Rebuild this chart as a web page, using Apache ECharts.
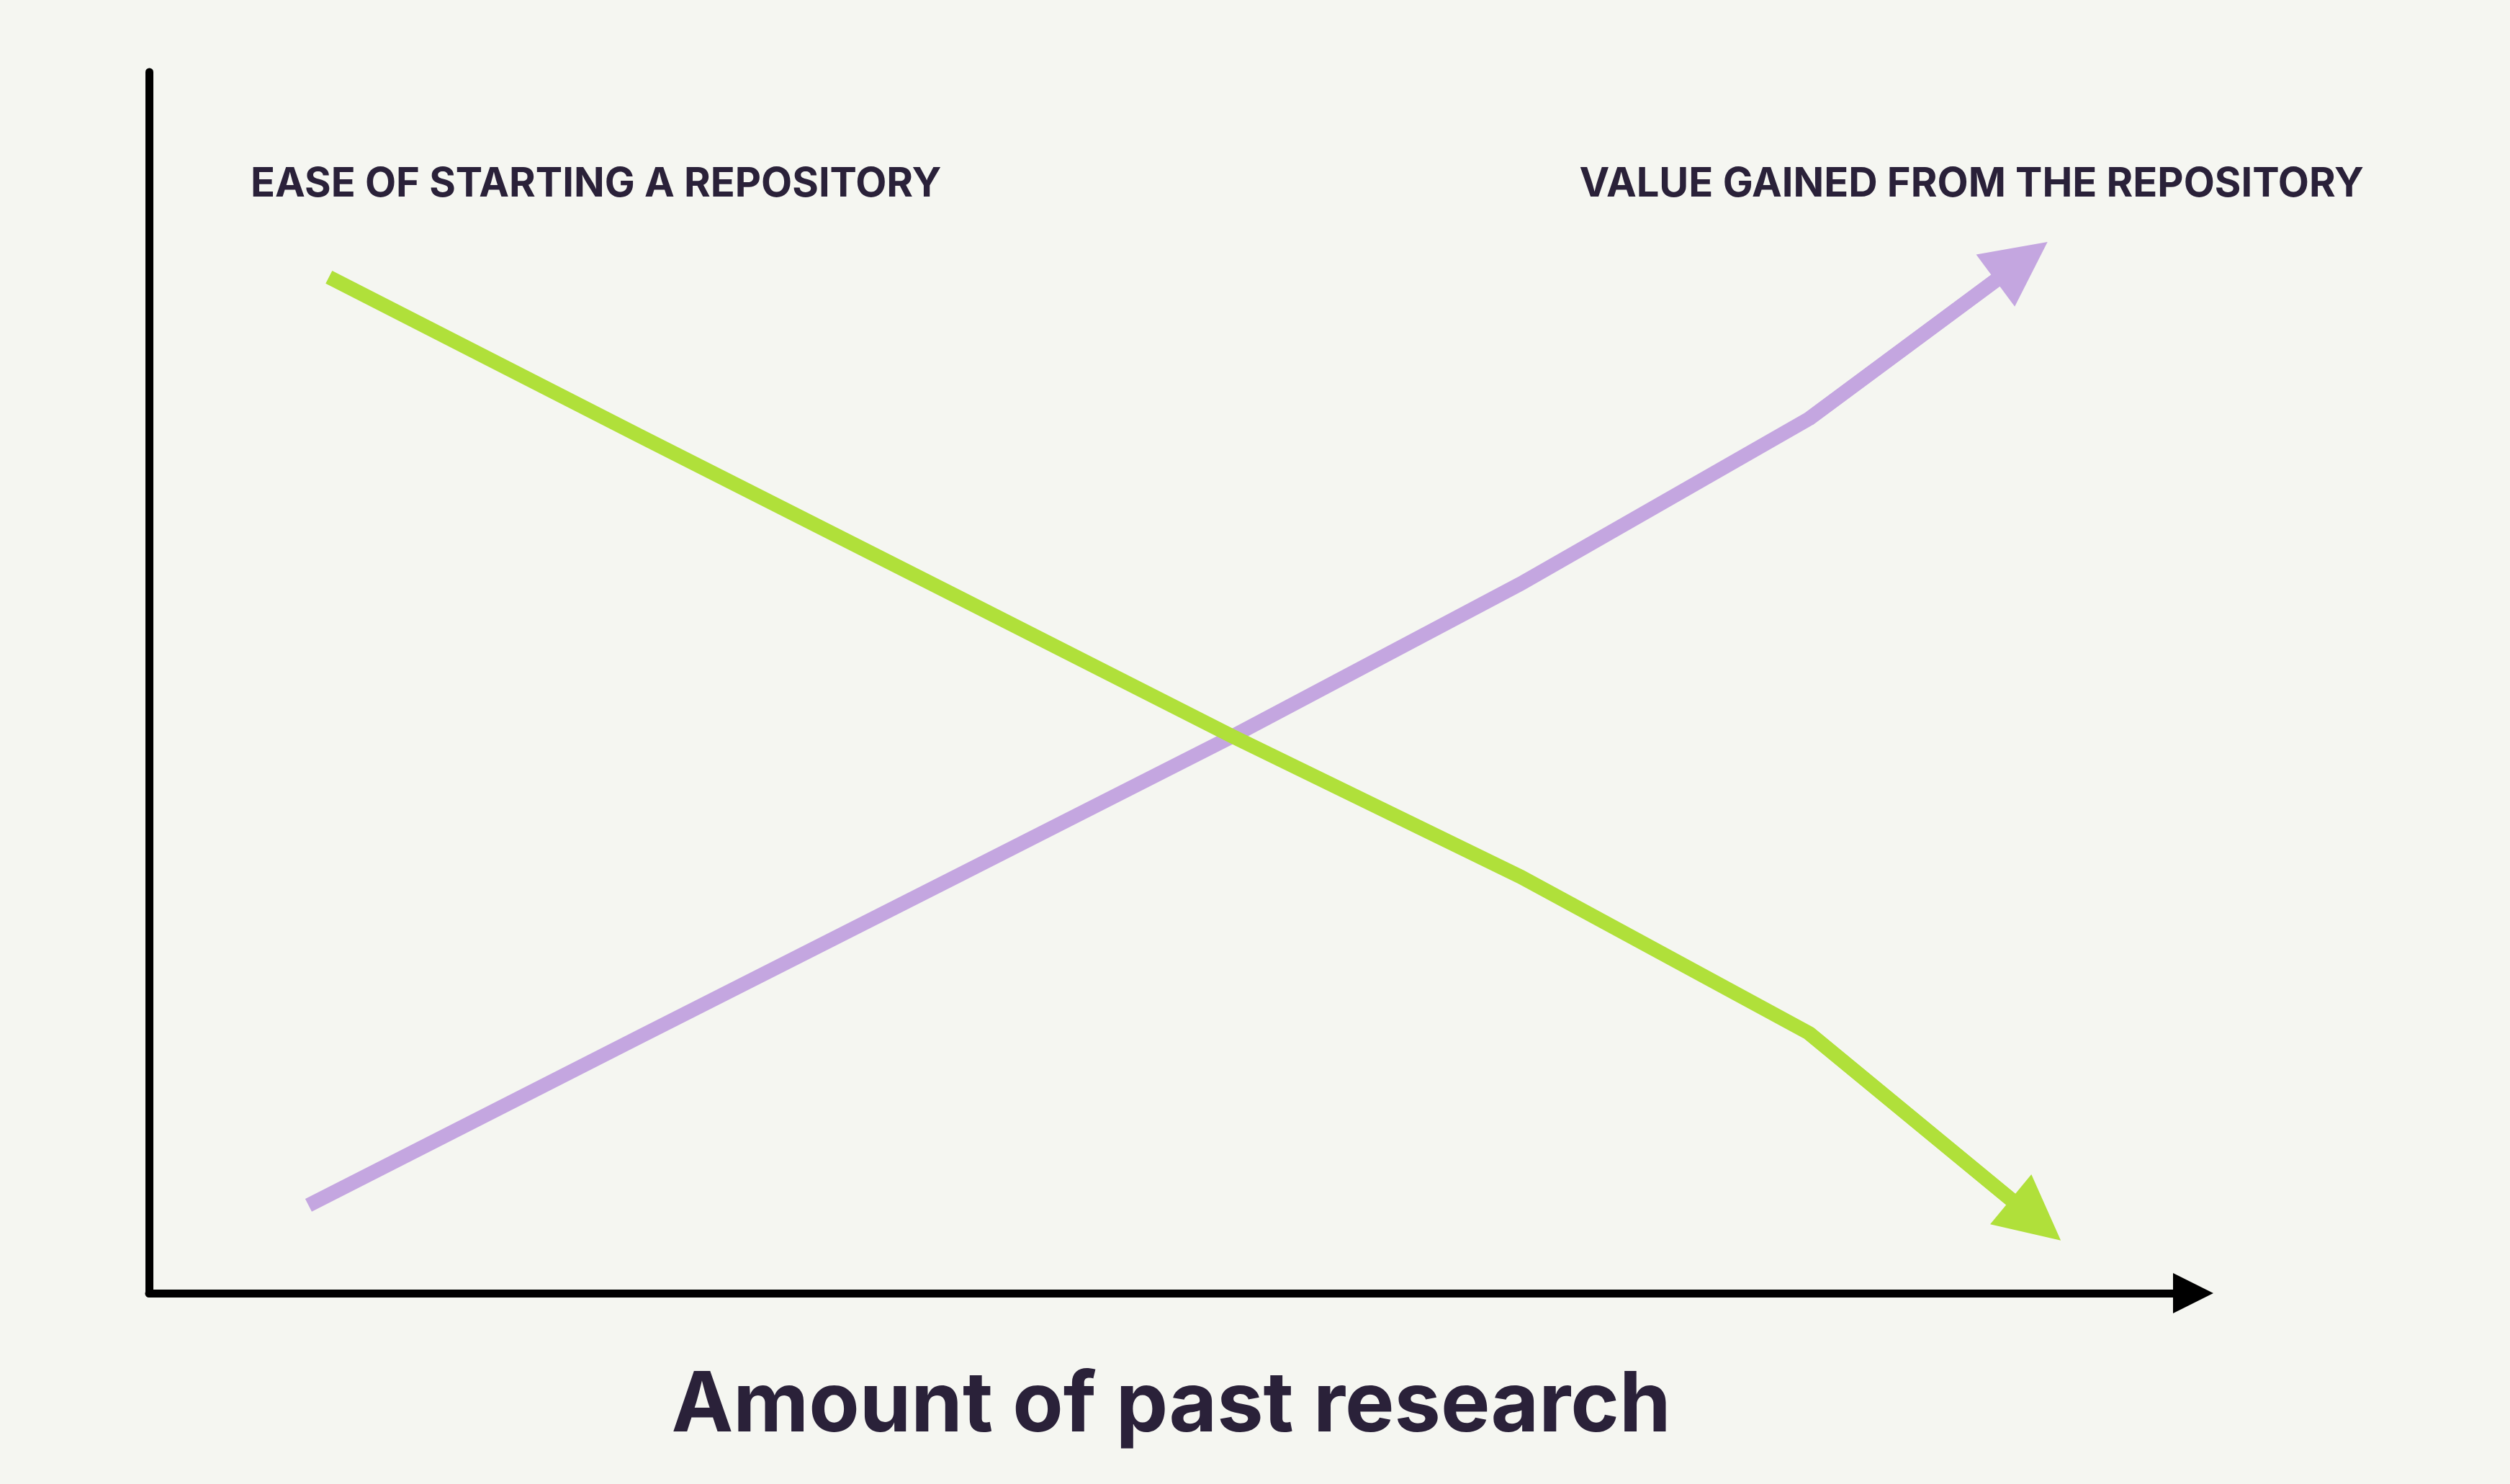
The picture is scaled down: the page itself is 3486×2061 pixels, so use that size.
<!DOCTYPE html>
<html><head><meta charset="utf-8">
<script src="https://cdn.jsdelivr.net/npm/echarts@6/dist/echarts.min.js"></script>
<style>html,body{margin:0;padding:0;background:#f5f6f1}#c{width:3486px;height:2061px}</style>
</head><body><div id="c"></div>
<script>
const easeX = [8.8, 24.0, 39.7, 53.0, 67.1, 81.2, 92.3];
const easeY = [83.2, 70.2, 56.9, 45.6, 34.1, 21.3, 6.0];
const valueX = [7.8, 24.0, 39.7, 53.0, 67.1, 81.2, 91.6];
const valueY = [7.2, 21.0, 34.3, 45.6, 58.1, 71.6, 84.5];
const labels = ["EASE OF STARTING A REPOSITORY", "VALUE GAINED FROM THE REPOSITORY"];
const xName = "Amount of past research";
const pts = (xs, ys) => xs.map((x, i) => [x, ys[i]]);
const tail = (xs, ys) => { const n = xs.length; return [[xs[n-2], ys[n-2]], [xs[n-1], ys[n-1]]]; };
const chart = echarts.init(document.getElementById('c'));
const lineSeries = (xs, ys, color) => [
  {type: 'lines', coordinateSystem: 'cartesian2d', polyline: true, symbol: 'none',
    lineStyle: {color: color, width: 20, opacity: 1, cap: 'butt'}, data: [{coords: pts(xs, ys)}]},
  {type: 'lines', coordinateSystem: 'cartesian2d', symbol: ['none', 'triangle'], symbolSize: [70, 90],
    lineStyle: {color: color, width: 20, opacity: 1}, itemStyle: {color: color}, data: [{coords: tail(xs, ys)}]}
];
chart.setOption({
  backgroundColor: '#f5f6f1',
  animation: false,
  grid: {left: 207, top: 100, right: 440, bottom: 265},
  xAxis: {type: 'value', min: 0, max: 100, splitLine: {show: false}, axisTick: {show: false}, axisLabel: {show: false},
    axisLine: {lineStyle: {color: '#000', width: 11}, symbol: ['none', 'triangle'], symbolSize: [56, 56]},
    name: xName, nameLocation: 'middle', nameGap: 100,
    nameTextStyle: {fontFamily: 'Inter', fontWeight: 'bold', fontSize: 115, color: '#2a2139'}},
  yAxis: {type: 'value', min: 0, max: 100, splitLine: {show: false}, axisTick: {show: false}, axisLabel: {show: false},
    axisLine: {onZero: false, lineStyle: {color: '#000', width: 11}}},
  graphic: [
    {type: 'text', left: 348, top: 228, style: {text: labels[0], font: 'bold 56px Inter', fill: '#2a2139'}},
    {type: 'text', right: 3486 - 3283, top: 228, style: {text: labels[1], font: 'bold 56px Inter', fill: '#2a2139'}}
  ],
  series: [...lineSeries(valueX, valueY, '#c4a6e0'), ...lineSeries(easeX, easeY, '#b0e03a')]
});
</script></body></html>
